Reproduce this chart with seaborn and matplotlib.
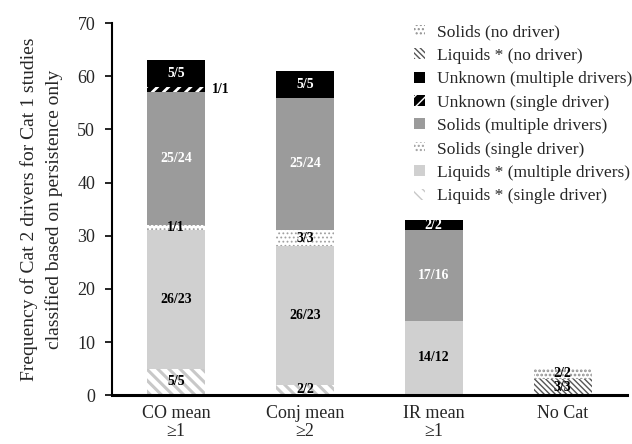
import matplotlib
matplotlib.use("Agg")
import matplotlib.pyplot as plt
import seaborn as sns
import numpy as np
import pandas as pd
from matplotlib.patches import Patch

categories = ["CO mean\n≥1", "Conj mean\n≥2", "IR mean\n≥1", "No Cat"]

# stacked series, bottom to top
series_names = [
    "Liquids * (single driver)",
    "Liquids * (multiple drivers)",
    "Solids (single driver)",
    "Solids (multiple drivers)",
    "Unknown (single driver)",
    "Unknown (multiple drivers)",
    "Liquids * (no driver)",
    "Solids (no driver)",
]
liq_single = [5, 2, 0, 0]
liq_multi = [26, 26, 14, 0]
sol_single = [1, 3, 0, 0]
sol_multi = [25, 25, 17, 0]
unk_single = [1, 0, 0, 0]
unk_multi = [5, 5, 2, 0]
liq_none = [0, 0, 0, 3]
sol_none = [0, 0, 0, 2]

liq_single_lbl = ["5/5", "2/2", "", ""]
liq_multi_lbl = ["26/23", "26/23", "14/12", ""]
sol_single_lbl = ["1/1", "3/3", "", ""]
sol_multi_lbl = ["25/24", "25/24", "17/16", ""]
unk_single_lbl = ["1/1", "", "", ""]
unk_multi_lbl = ["5/5", "5/5", "2/2", ""]
liq_none_lbl = ["", "", "", "3/3"]
sol_none_lbl = ["", "", "", "2/2"]

values = [liq_single, liq_multi, sol_single, sol_multi, unk_single, unk_multi, liq_none, sol_none]
labels = [liq_single_lbl, liq_multi_lbl, sol_single_lbl, sol_multi_lbl,
          unk_single_lbl, unk_multi_lbl, liq_none_lbl, sol_none_lbl]

# styles: facecolor, hatch colour, hatch, hatch linewidth, label colour
styles = [
    dict(fc="white", ec="#c8c8c8", hatch="\\\\\\", hlw=2.2, tc="black"),
    dict(fc="#d0d0d0", ec="#d0d0d0", hatch=None, hlw=1.0, tc="black"),
    dict(fc="white", ec="#a0a0a0", hatch="....", hlw=0.8, tc="black"),
    dict(fc="#9b9b9b", ec="#9b9b9b", hatch=None, hlw=1.0, tc="white"),
    dict(fc="black", ec="white", hatch="///", hlw=2.0, tc="black"),
    dict(fc="black", ec="black", hatch=None, hlw=1.0, tc="white"),
    dict(fc="white", ec="#555555", hatch="\\\\\\\\\\\\", hlw=1.0, tc="black"),
    dict(fc="white", ec="#909090", hatch="....", hlw=1.3, tc="black"),
]

sns.set_style("ticks")
plt.rcParams["font.family"] = ["Liberation Serif", "DejaVu Serif"]

fig = plt.figure(figsize=(6.32, 4.44), dpi=100)
ax = fig.add_axes([0.177, 0.110, 0.815, 0.838])

vals = np.array(values, dtype=float)
cum = np.cumsum(vals, axis=0)

# draw from top layer downwards so each lower cumulative bar covers the rest
for i in range(len(values) - 1, -1, -1):
    st = styles[i]
    df = pd.DataFrame({"cat": categories, "top": cum[i]})
    with plt.rc_context({"hatch.linewidth": st["hlw"], "hatch.color": st["ec"]}):
        sns.barplot(data=df, x="cat", y="top", ax=ax, color=st["fc"],
                    saturation=1, width=0.45, linewidth=0, edgecolor=st["ec"],
                    hatch=st["hatch"], order=categories)

bar_w = 0.45
for i, lbls in enumerate(labels):
    for j, lab in enumerate(lbls):
        if not lab:
            continue
        lo = cum[i][j] - vals[i][j]
        mid = lo + vals[i][j] / 2
        if series_names[i] == "Unknown (single driver)":
            ax.text(j + bar_w / 2 + 0.05, mid, lab, ha="left", va="center",
                    fontsize=10, fontweight="bold", color="black")
        else:
            ax.text(j, mid, lab, ha="center", va="center", fontsize=10,
                    fontweight="bold", color=styles[i]["tc"])

ax.set_xlim(-0.5, 3.5)
ax.set_ylim(0, 70)
ax.set_yticks(range(0, 71, 10))
ax.set_xlabel("")
ax.set_ylabel("Frequency of Cat 2 drivers for Cat 1 studies\nclassified based on persistence only",
              fontsize=14, linespacing=1.5, labelpad=10)
ax.tick_params(axis="y", labelsize=13, length=5, width=1.2, pad=7, color="black")
ax.tick_params(axis="x", labelsize=13, length=0, pad=7)
for lab in ax.get_xticklabels():
    lab.set_linespacing(1.1)
sns.despine(ax=ax)
ax.spines["left"].set_linewidth(1.5)
ax.spines["bottom"].set_linewidth(2.2)
ax.spines["left"].set_color("black")
ax.spines["bottom"].set_color("black")

legend_order = [7, 6, 5, 4, 3, 2, 1, 0]
handles = []
with plt.rc_context({"hatch.linewidth": 1.0}):
    for i in legend_order:
        st = styles[i]
        handles.append(Patch(facecolor=st["fc"], edgecolor=st["ec"], hatch=st["hatch"],
                             linewidth=0, label=series_names[i]))
leg = ax.legend(handles=handles, loc="upper right", bbox_to_anchor=(1.03, 1.025),
                frameon=False, fontsize=12.5, handlelength=0.6, handleheight=0.6,
                handletextpad=0.7, labelspacing=0.43, borderaxespad=0.2)

fig.savefig("out.png", dpi=100)
